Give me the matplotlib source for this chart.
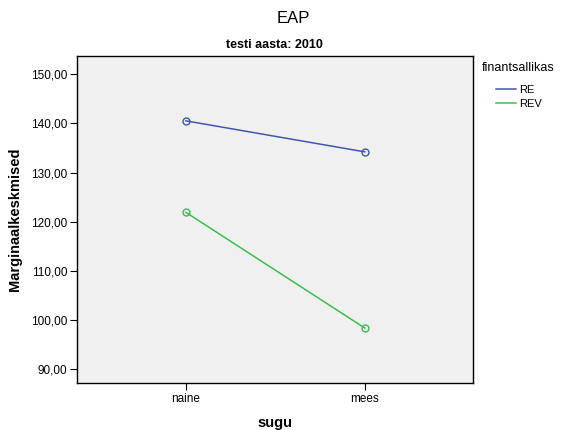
import matplotlib.pyplot as plt
from matplotlib.lines import Line2D

plt.rcParams['font.family'] = ['Liberation Sans', 'DejaVu Sans']

# andmed
sugu = ['naine', 'mees']
re_vals = [140.5, 134.2]
rev_vals = [121.9, 98.4]
y_ticks = [90, 100, 110, 120, 130, 140, 150]

re_color = '#3E58AC'
rev_color = '#3BBE4A'

fig = plt.figure(figsize=(5.61, 4.30), dpi=100)
ax = fig.add_axes([0.137, 0.109, 0.706, 0.761])
ax.set_facecolor('#F0F0F0')

x = list(range(len(sugu)))
ax.plot(x, re_vals, color=re_color, lw=1.1, marker='o', ms=5,
        mfc='none', mec=re_color, mew=1.0)
ax.plot(x, rev_vals, color=rev_color, lw=1.1, marker='o', ms=5,
        mfc='none', mec=rev_color, mew=1.0)

ax.set_xlim(-0.61, 1.605)
ax.set_ylim(87.2, 153.7)
ax.set_xticks(x)
ax.set_xticklabels(sugu)
ax.set_yticks(y_ticks)
ax.yaxis.set_major_formatter(plt.FuncFormatter(lambda v, p: ('%.2f' % v).replace('.', ',')))
ax.tick_params(direction='out', length=5, width=0.8, colors='black', pad=2, labelsize=8.5)
for s in ax.spines.values():
    s.set_linewidth(1.0)
    s.set_color('black')

ax.set_xlabel('sugu', fontsize=10.5, fontweight='bold', labelpad=8)
ax.set_ylabel('Marginaalkeskmised', fontsize=10.5, fontweight='bold', labelpad=6)
ax.set_title('testi aasta: 2010', fontsize=9, fontweight='bold', pad=6)
fig.text(0.522, 0.957, 'EAP', fontsize=12, ha='center', va='center')

# legend
fig.text(0.859, 0.842, 'finantsallikas', fontsize=9, ha='left', va='center')
handles = [Line2D([], [], color=re_color, lw=1.1), Line2D([], [], color=rev_color, lw=1.1)]
fig.legend(handles, ['RE', 'REV'], loc='upper left',
           bbox_to_anchor=(0.884, 0.803), frameon=False, fontsize=8,
           handlelength=1.8, handletextpad=0.3,
           labelspacing=0.4, borderaxespad=0, borderpad=0)

fig.savefig('out.png', dpi=100)
